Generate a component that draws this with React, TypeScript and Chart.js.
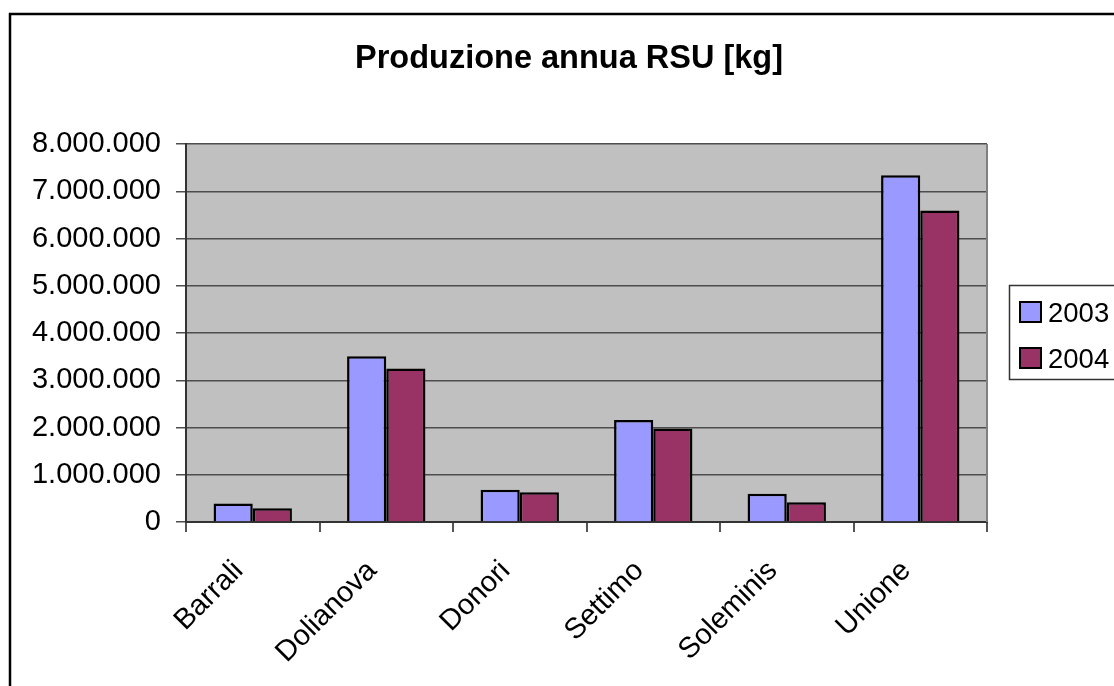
import React, { useEffect, useRef } from 'react';
import { Chart, registerables } from 'chart.js';

Chart.register(...registerables);

const chartTitle = 'Produzione annua RSU [kg]';
const categories = ['Barrali', 'Dolianova', 'Donori', 'Settimo', 'Soleminis', 'Unione'];
const seriesNames = ['2003', '2004'];
const values2003 = [390000, 3510000, 680000, 2160000, 600000, 7340000];
const values2004 = [290000, 3250000, 630000, 1980000, 420000, 6590000];
const yTickLabels = ['0', '1.000.000', '2.000.000', '3.000.000', '4.000.000', '5.000.000', '6.000.000', '7.000.000', '8.000.000'];
const seriesColors = ['#9999FF', '#993366'];

const FONT = '"Liberation Sans", Arial, sans-serif';

const decorPlugin = {
  id: 'decor',
  beforeDraw(chart: any) {
    const { ctx, chartArea } = chart;
    ctx.save();
    ctx.fillStyle = '#ffffff';
    ctx.fillRect(0, 0, chart.width, chart.height);
    ctx.fillStyle = '#C0C0C0';
    ctx.fillRect(chartArea.left, chartArea.top, chartArea.right - chartArea.left, chartArea.bottom - chartArea.top);
    ctx.restore();
  },
  afterDraw(chart: any) {
    const { ctx, chartArea } = chart;
    ctx.save();
    // plot area right border
    ctx.strokeStyle = '#808080';
    ctx.lineWidth = 2;
    ctx.beginPath();
    ctx.moveTo(chartArea.right, chartArea.top);
    ctx.lineTo(chartArea.right, chartArea.bottom);
    ctx.stroke();
    // outer chart border
    ctx.strokeStyle = '#000000';
    ctx.lineWidth = 2.5;
    ctx.strokeRect(10, 14, 1300, 900);
    // title
    ctx.fillStyle = '#000';
    ctx.font = `bold 32.5px ${FONT}`;
    ctx.textAlign = 'center';
    ctx.textBaseline = 'alphabetic';
    ctx.fillText(chartTitle, 569, 68);
    // legend
    ctx.strokeStyle = '#333';
    ctx.lineWidth = 1.5;
    ctx.strokeRect(1009.5, 285.5, 140, 94);
    ctx.font = `27.5px ${FONT}`;
    ctx.textAlign = 'left';
    const rows = [312, 358];
    seriesNames.forEach((name, i) => {
      const cy = rows[i];
      ctx.fillStyle = seriesColors[i];
      ctx.fillRect(1020, cy - 10, 21, 20);
      ctx.strokeStyle = '#000';
      ctx.lineWidth = 2;
      ctx.strokeRect(1020, cy - 10, 21, 20);
      ctx.fillStyle = '#000';
      ctx.fillText(name, 1048, cy + 10);
    });
    ctx.restore();
  },
};

export default function App() {
  const ref = useRef<HTMLCanvasElement>(null);
  useEffect(() => {
    if (!ref.current) return;
    const chart = new Chart(ref.current, {
      type: 'bar',
      data: {
        labels: categories,
        datasets: [
          {
            label: seriesNames[0],
            data: values2003,
            backgroundColor: seriesColors[0],
            borderColor: '#000',
            borderWidth: 2.5,
            barPercentage: 1,
            categoryPercentage: 0.587,
          },
          {
            label: seriesNames[1],
            data: values2004,
            backgroundColor: seriesColors[1],
            borderColor: '#000',
            borderWidth: 2.5,
            barPercentage: 1,
            categoryPercentage: 0.587,
          },
        ],
      },
      options: {
        responsive: false,
        animation: false,
        devicePixelRatio: 1,
        layout: { padding: { top: 144, right: 127, bottom: 0, left: 0 } },
        plugins: {
          legend: { display: false },
          title: { display: false },
          tooltip: { enabled: false },
        },
        scales: {
          x: {
            type: 'category',
            offset: true,
            grid: {
              offset: true,
              drawOnChartArea: false,
              drawTicks: true,
              tickLength: 10,
              color: '#555',
              lineWidth: 2,
            },
            border: { display: true, color: '#333', width: 2 },
            ticks: {
              autoSkip: false,
              maxRotation: 45,
              minRotation: 45,
              color: '#000',
              padding: 22,
              labelOffset: -14,
              font: { family: FONT, size: 29 },
            },
            afterFit: (s: any) => {
              s.height = 164;
            },
          },
          y: {
            min: 0,
            max: 8000000,
            ticks: {
              stepSize: 1000000,
              color: '#000',
              padding: 15,
              font: { family: FONT, size: 29 },
              callback: (v: any) => yTickLabels[Math.round(Number(v) / 1000000)],
            },
            grid: { color: '#4d4d4d', lineWidth: 1.5, tickLength: 10 },
            border: { display: true, color: '#333', width: 2 },
            afterFit: (s: any) => {
              s.width = 186;
            },
          },
        },
      },
      plugins: [decorPlugin],
    });
    return () => chart.destroy();
  }, []);
  return (
    <canvas
      ref={ref}
      width={1114}
      height={686}
      style={{ position: 'absolute', left: 0, top: 0, width: 1114, height: 686 }}
    />
  );
}
